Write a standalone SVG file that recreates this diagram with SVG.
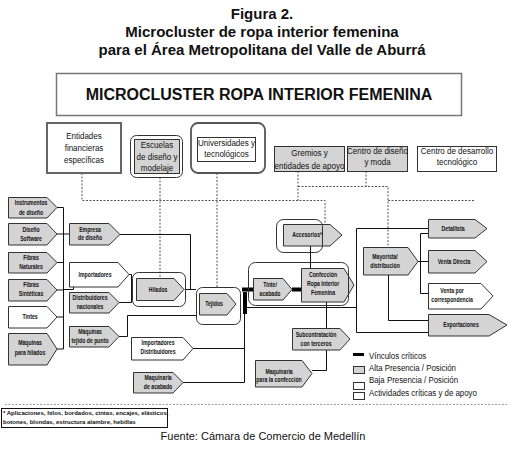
<svg xmlns="http://www.w3.org/2000/svg" width="524" height="451" viewBox="0 0 524 451">
<style>
text{font-family:"Liberation Sans",Arial,sans-serif;fill:#111}
.h{font-size:15px;font-weight:bold;text-anchor:middle}
.big{font-size:16px;font-weight:bold;text-anchor:middle}
.s{font-size:7px;font-weight:bold;text-anchor:middle;transform-box:fill-box;transform-origin:center;transform:scaleX(.74)}
.m{font-size:9px;text-anchor:middle;transform-box:fill-box;transform-origin:center;transform:scaleX(.89)}
.lg{font-size:9px;transform-box:fill-box;transform-origin:left center;transform:scaleX(.875)}
.fn{font-size:6px;font-weight:bold}
.g{fill:#d4d4d4;stroke:#333;stroke-width:1}
.w{fill:#fff;stroke:#333;stroke-width:1}
.o{fill:none;stroke:#333;stroke-width:1}
.c{fill:none;stroke:#111;stroke-width:1}
.d{fill:none;stroke:#555;stroke-width:1;stroke-dasharray:2 1.5}
.k{fill:none;stroke:#000;stroke-width:4}
</style>
<rect width="524" height="451" fill="#fff"/>
<g id="title">
<text class="h" x="262" y="19">Figura 2.</text>
<text class="h" x="262" y="37">Microcluster de ropa interior femenina</text>
<text class="h" x="262" y="55">para el Área Metropolitana del Valle de Aburrá</text>
</g>
<g id="header">
<rect x="56.5" y="73.5" width="405" height="42" fill="#fff" stroke="#777" stroke-width="1.5"/>
<text class="big" x="259" y="100">MICROCLUSTER ROPA INTERIOR FEMENINA</text>
</g>
<g id="connectors">
<polyline class="d" points="82,173 82,200.5 325,200.5 325,224"/>
<polyline class="d" points="160,177 160,278"/>
<polyline class="d" points="217,173 217,287"/>
<polyline class="d" points="298,171 298,200.5"/>
<polyline class="d" points="366,171 366,186.5"/>
<polyline class="d" points="298,186.5 388,186.5 388,247"/>
<polyline class="d" points="388,200.5 475,200.5"/>
<polyline class="c" points="57,207.5 63.5,207.5 63.5,349 57,349"/>
<line class="c" x1="57" y1="234" x2="69" y2="234"/>
<line class="c" x1="57" y1="262.5" x2="63.5" y2="262.5"/>
<line class="c" x1="57" y1="290" x2="63.5" y2="290"/>
<line class="c" x1="57" y1="317" x2="63.5" y2="317"/>
<polyline class="c" points="63.5,289.5 73.5,289.5 73.5,287"/>
<polyline class="c" points="129,274.5 131.5,274.5 131.5,302.5 119,302.5"/>
<line class="c" x1="131.5" y1="289" x2="133" y2="289"/>
<polyline class="c" points="120,234.5 190.5,234.5 190.5,289.5"/>
<line class="c" x1="186" y1="289.5" x2="196" y2="289.5"/>
<polyline class="c" points="119,336.5 127.5,336.5 127.5,315.5 196,315.5"/>
<line class="c" x1="193" y1="348.5" x2="244.5" y2="348.5"/>
<polyline class="c" points="183,382.5 244.5,382.5 244.5,312"/>
<line class="c" x1="245" y1="307.5" x2="356.5" y2="307.5"/>
<polyline class="c" points="428,228.5 356.5,228.5 356.5,332.5 428,332.5"/>
<polyline class="c" points="418,261.5 420.5,261.5"/>
<polyline class="c" points="428,233.5 420.5,233.5 420.5,293.5 428,293.5"/>
<line class="c" x1="420.5" y1="261.5" x2="428" y2="261.5"/>
<polyline class="c" points="388.5,275 388.5,320.5 428,320.5"/>
<line class="c" x1="310.5" y1="246" x2="310.5" y2="268"/>
<polyline class="c" points="326.5,302 326.5,370.5 312,370.5"/>
<line class="k" x1="242" y1="289.5" x2="253" y2="289.5"/>
<line class="k" x1="292" y1="289.5" x2="301" y2="289.5"/>
<line class="k" x1="245" y1="292" x2="245" y2="314"/>
</g>
<g id="n-entidades">
<rect x="47" y="123" width="74" height="50" fill="#fff" stroke="#666" stroke-width="2"/>
<text class="m" x="84" y="139">Entidades</text>
<text class="m" x="84" y="151">financieras</text>
<text class="m" x="84" y="163">específicas</text>
</g>
<g id="n-escuelas">
<rect x="130.5" y="135.5" width="52" height="42" rx="6" fill="#fff" stroke="#333"/>
<rect x="134.5" y="139.5" width="45" height="34" class="g"/>
<text class="m" x="157" y="148">Escuelas</text>
<text class="m" x="157" y="160">de diseño y</text>
<text class="m" x="157" y="171.5">modelaje</text>
</g>
<g id="n-universidades">
<rect x="191" y="123" width="74" height="50" rx="7" fill="#fff" stroke="#555" stroke-width="1.8"/>
<rect x="197.5" y="137.5" width="58" height="24" class="w"/>
<text class="m" x="226.5" y="146.5">Universidades y</text>
<text class="m" x="226.5" y="157.5">tecnológicos</text>
</g>
<g id="n-gremios">
<rect x="274.5" y="146.5" width="70" height="25" class="g"/>
<text class="m" x="309.5" y="156.5">Gremios y</text>
<text class="m" x="309.5" y="169">entidades de apoyo</text>
</g>
<g id="n-centro-diseno">
<rect x="347.5" y="146.5" width="60" height="25" class="g"/>
<text class="m" x="377.5" y="154.5">Centro de diseño</text>
<text class="m" x="377.5" y="165.5">y moda</text>
</g>
<g id="n-centro-desarrollo">
<rect x="417.5" y="146.5" width="79" height="25" class="w"/>
<text class="m" x="457" y="154.5">Centro de desarrollo</text>
<text class="m" x="457" y="165.5">tecnológico</text>
</g>
<g id="n-instrumentos">
<path class="g" d="M8.5 197.5H47L57 207.5L47 218H8.5Z"/>
<text class="s" x="31" y="205.5">Instrumentos</text>
<text class="s" x="31" y="215">de diseño</text>
</g>
<g id="n-software">
<path class="g" d="M8.5 223.5H47L57 234L47 245H8.5Z"/>
<text class="s" x="31" y="232">Diseño</text>
<text class="s" x="31" y="241.5">Software</text>
</g>
<g id="n-fibras-nat">
<path class="g" d="M8.5 252.5H47L57 262.5L47 273H8.5Z"/>
<text class="s" x="31" y="260.5">Fibras</text>
<text class="s" x="31" y="269.5">Naturales</text>
</g>
<g id="n-fibras-sint">
<path class="g" d="M8.5 279.5H47L57 290L47 301H8.5Z"/>
<text class="s" x="31" y="287.5">Fibras</text>
<text class="s" x="31" y="296.5">Sintéticas</text>
</g>
<g id="n-tintes">
<path class="w" d="M8.5 306.5H47L57 317L47 328H8.5Z"/>
<text class="s" x="30" y="319.5">Tintes</text>
</g>
<g id="n-maq-hilados">
<path class="g" d="M8.5 333.5H47L57 349L47 365H8.5Z"/>
<text class="s" x="30" y="345.5">Máquinas</text>
<text class="s" x="30" y="355.5">para hilados</text>
</g>
<g id="n-empresa">
<path class="g" d="M69.5 223.5H109L120 234.5L109 245H69.5Z"/>
<text class="s" x="90" y="232">Empresa</text>
<text class="s" x="90" y="240.5">de diseño</text>
</g>
<g id="n-importadores">
<path class="w" d="M69.5 262.5H118L129 274.5L118 287H69.5Z"/>
<text class="s" x="95" y="277.5">Importadores</text>
</g>
<g id="n-distribuidores">
<path class="g" d="M69.5 292.5H109L119 302.5L109 313H69.5Z"/>
<text class="s" x="90" y="300.5">Distribuidores</text>
<text class="s" x="90" y="309.5">nacionales</text>
</g>
<g id="n-maq-tejido">
<path class="g" d="M69.5 326.5H109L119 336.5L109 347H69.5Z"/>
<text class="s" x="90" y="334.5">Máquinas</text>
<text class="s" x="90" y="343.5">tejido de punto</text>
</g>
<g id="n-hilados">
<path class="g" d="M136.5 278.5H174L184 289.5L174 300.5H136.5Z"/>
<rect x="132.5" y="272.5" width="53" height="34" rx="6" class="o"/>
<text class="s" x="158" y="292">Hilados</text>
</g>
<g id="n-imp-dist">
<path class="w" d="M131.5 337.5H183L193 348.5L183 360H131.5Z"/>
<text class="s" x="158" y="345.5">Importadores</text>
<text class="s" x="158" y="354.5">Distribuidores</text>
</g>
<g id="n-maq-acabado">
<path class="g" d="M133.5 372.5H173L183 382.5L173 393H133.5Z"/>
<text class="s" x="158" y="380.5">Maquinaria</text>
<text class="s" x="158" y="389.5">de acabado</text>
</g>
<g id="n-tejidos">
<path class="g" d="M199.5 293.5H227L236 304L227 315H199.5Z"/>
<rect x="196.5" y="287.5" width="44" height="37" rx="6" class="o"/>
<text class="s" x="214" y="306.5">Tejidos</text>
</g>
<g id="n-tinte">
<path class="g" d="M253.5 278.5H283L292 289.5L283 300H253.5Z"/>
<text class="s" x="270" y="287.5">Tinte/</text>
<text class="s" x="270" y="296.5">acabado</text>
</g>
<g id="n-confeccion">
<path class="g" d="M301.5 268.5H344L354 285L344 302H301.5Z"/>
<text class="s" x="323" y="277.5">Confección</text>
<text class="s" x="323" y="286.5">Ropa Interior</text>
<text class="s" x="323" y="295.5">Femenina</text>
</g>
<g id="n-grupo-confeccion">
<rect x="248.5" y="262.5" width="100" height="43" rx="7" class="o"/>
</g>
<g id="n-accesorios">
<path class="g" d="M283.5 224.5H330L342 235L330 246H283.5Z"/>
<rect x="276.5" y="219.5" width="46" height="33" rx="7" class="o"/>
<text class="s" x="307" y="237.5">Accesorios*</text>
</g>
<g id="n-subcontratacion">
<path class="g" d="M292.5 328.5H340L350 339L340 350H292.5Z"/>
<text class="s" x="316" y="337.5">Subcontratación</text>
<text class="s" x="316" y="346">con terceros</text>
</g>
<g id="n-maq-confeccion">
<path class="g" d="M255.5 360.5H302L312 373.5L302 387H255.5Z"/>
<text class="s" x="279" y="374.5">Maquinaria</text>
<text class="s" x="279" y="382.5">para la confección</text>
</g>
<g id="n-mayorista">
<path class="g" d="M363.5 247.5H408L418 261.5L408 275H363.5Z"/>
<text class="s" x="385" y="259.5">Mayorista/</text>
<text class="s" x="385" y="268.5">distribución</text>
</g>
<g id="n-detallista">
<path class="g" d="M428.5 219.5H475L487 228.5L475 238H428.5Z"/>
<text class="s" x="453" y="231">Detallista</text>
</g>
<g id="n-venta-directa">
<path class="g" d="M428.5 250.5H475L487 261.5L475 273H428.5Z"/>
<text class="s" x="454" y="264.5">Venta Directa</text>
</g>
<g id="n-venta-corr">
<path class="w" d="M428.5 283.5H481L493 296L481 309H428.5Z"/>
<text class="s" x="452" y="293.5">Venta por</text>
<text class="s" x="452" y="302.5">correspondencia</text>
</g>
<g id="n-exportaciones">
<path class="g" d="M428.5 314.5H489L507 325L489 336H428.5Z"/>
<text class="s" x="461" y="327.5">Exportaciones</text>
</g>
<g id="legend">
<line x1="353" y1="354.5" x2="364" y2="354.5" stroke="#000" stroke-width="3"/>
<text class="lg" x="369" y="359.5">Vínculos críticos</text>
<rect x="353.5" y="366.5" width="11" height="7" class="g"/>
<text class="lg" x="369" y="371.5">Alta Presencia / Posición</text>
<rect x="353.5" y="382.5" width="11" height="7" class="w"/>
<text class="lg" x="369" y="383.5">Baja Presencia / Posición</text>
<rect x="353.5" y="392.5" width="11" height="7" class="w"/>
<text class="lg" x="369" y="396">Actividades críticas y de apoyo</text>
</g>
<line x1="5" y1="404.5" x2="507" y2="404.5" stroke="#999" stroke-width="1" stroke-dasharray="2 1.5"/>
<g id="footnote">
<rect x="1.5" y="408.5" width="166" height="19" fill="#fff" stroke="#111"/>
<text class="fn" x="3" y="415">* Aplicaciones, hilos, bordados, cintas, encajes, elásticos,</text>
<text class="fn" x="3" y="424">botones, blondas, estructura alambre, hebillas</text>
</g>
<text x="263" y="440" font-size="11" text-anchor="middle">Fuente: Cámara de Comercio de Medellín</text>
</svg>
